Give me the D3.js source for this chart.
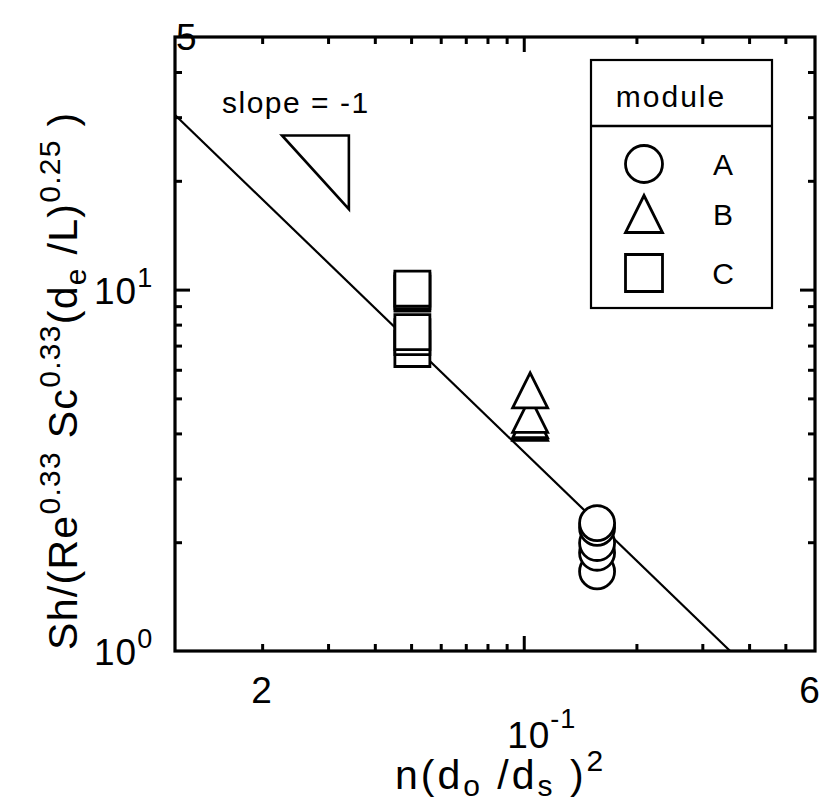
<!DOCTYPE html>
<html>
<head>
<meta charset="utf-8">
<script src="https://cdn.jsdelivr.net/npm/d3@7"></script>
<style>
  html, body { margin: 0; padding: 0; background: #fff; }
  svg { display: block; }
  text { font-family: "Liberation Sans", Arial, Helvetica, sans-serif; fill: #000; }
</style>
</head>
<body>
<svg id="chart" width="820" height="810"></svg>
<script>
// Mass-transfer correlation: Sh/(Re^0.33 Sc^0.33 (de/L)^0.25) against n(do/ds)^2

// Module labels and their packing parameter n(do/ds)^2
const modules = ["A", "B", "C"];
const moduleX = [0.157, 0.104, 0.0504];
// Measured correlation values for each module
const valuesA = [1.66, 1.87, 1.99, 2.19, 2.26];
const valuesB = [4.28, 4.35, 4.50, 5.26];
const valuesC = [6.85, 7.39, 7.63, 9.75, 9.90, 10.06];

// Fitted line y = k / x (slope -1 on log-log axes)
const fitCoefficient = 0.356;

// Axis extents and ticks
const xDomain = [0.0117, 0.6];
const yDomain = [1, 50];
const xMinorTicks = [0.02, 0.03, 0.04, 0.05, 0.06, 0.07, 0.08, 0.09, 0.2, 0.3, 0.4, 0.5];
const xMajorTicks = [0.1];
const yMinorTicks = [2, 3, 4, 5, 6, 7, 8, 9, 20, 30, 40];
const yMajorTicks = [10];
const xTickLabels = [
  { v: 0.02, base: "2", sup: "" },
  { v: 0.1, base: "10", sup: "-1" },
  { v: 0.6, base: "6", sup: "" }
];
const yTickLabels = [
  { v: 1, base: "10", sup: "0" },
  { v: 10, base: "10", sup: "1" },
  { v: 50, base: "5", sup: "" }
];

// Slope indicator triangle corners (data units)
const slopeTriX = [0.0226, 0.0341];
const slopeTriY = [26.7, 16.7];

const svg = d3.select("#chart");
const pL = 175, pR = 815, pT = 37, pB = 651;

const x = d3.scaleLog().domain(xDomain).range([pL, pR]);
const y = d3.scaleLog().domain(yDomain).range([pB, pT]);

// Fitted line, clipped to the plot frame
const fitStart = xDomain[0];
const fitEnd = fitCoefficient / yDomain[0];
svg.append("line")
  .attr("x1", x(fitStart)).attr("y1", y(fitCoefficient / fitStart))
  .attr("x2", x(fitEnd)).attr("y2", y(fitCoefficient / fitEnd))
  .attr("stroke", "#000").attr("stroke-width", 2.2);

// Slope indicator
svg.append("path")
  .attr("d", d3.line()([
    [x(slopeTriX[0]), y(slopeTriY[0])],
    [x(slopeTriX[1]), y(slopeTriY[0])],
    [x(slopeTriX[1]), y(slopeTriY[1])]
  ]) + "Z")
  .attr("fill", "none").attr("stroke", "#000").attr("stroke-width", 2.6)
  .attr("stroke-linejoin", "miter");

svg.append("text")
  .attr("x", 222).attr("y", 113)
  .attr("font-size", 30).attr("letter-spacing", 1.5)
  .text("slope = -1");

// Axes: inward ticks on all four sides
function styleAxis(g) {
  g.select(".domain").remove();
  g.selectAll(".tick line").attr("stroke", "#000").attr("stroke-width", 3);
}
const minorLen = 7, majorLen = 15;
svg.append("g").attr("transform", `translate(0,${pB})`)
  .call(d3.axisBottom(x).tickValues(xMinorTicks).tickSize(-minorLen).tickFormat("")).call(styleAxis);
svg.append("g").attr("transform", `translate(0,${pB})`)
  .call(d3.axisBottom(x).tickValues(xMajorTicks).tickSize(-majorLen).tickFormat("")).call(styleAxis);
svg.append("g").attr("transform", `translate(0,${pT})`)
  .call(d3.axisTop(x).tickValues(xMinorTicks).tickSize(-minorLen).tickFormat("")).call(styleAxis);
svg.append("g").attr("transform", `translate(0,${pT})`)
  .call(d3.axisTop(x).tickValues(xMajorTicks).tickSize(-majorLen).tickFormat("")).call(styleAxis);
svg.append("g").attr("transform", `translate(${pL},0)`)
  .call(d3.axisLeft(y).tickValues(yMinorTicks).tickSize(-minorLen).tickFormat("")).call(styleAxis);
svg.append("g").attr("transform", `translate(${pL},0)`)
  .call(d3.axisLeft(y).tickValues(yMajorTicks).tickSize(-majorLen).tickFormat("")).call(styleAxis);
svg.append("g").attr("transform", `translate(${pR},0)`)
  .call(d3.axisRight(y).tickValues(yMinorTicks).tickSize(-minorLen).tickFormat("")).call(styleAxis);
svg.append("g").attr("transform", `translate(${pR},0)`)
  .call(d3.axisRight(y).tickValues(yMajorTicks).tickSize(-majorLen).tickFormat("")).call(styleAxis);

// Plot frame
svg.append("rect")
  .attr("x", pL).attr("y", pT).attr("width", pR - pL).attr("height", pB - pT)
  .attr("fill", "none").attr("stroke", "#000").attr("stroke-width", 3.2);

// Tick labels
const tickFont = 37, supFont = 27;
xTickLabels.forEach(d => {
  const t = svg.append("text").attr("font-size", tickFont).attr("text-anchor", "middle")
    .attr("letter-spacing", 1);
  if (d.sup) {
    t.attr("x", x(d.v) + 18).attr("y", 748);
    t.append("tspan").text(d.base);
    t.append("tspan").attr("font-size", supFont).attr("dy", -20).text(d.sup);
  } else {
    t.attr("x", d.v === 0.6 ? x(d.v) - 5 : x(d.v)).attr("y", 703).text(d.base);
  }
});
yTickLabels.forEach(d => {
  const t = svg.append("text").attr("font-size", tickFont).attr("letter-spacing", 1);
  if (d.sup) {
    t.attr("x", 94).attr("y", y(d.v) + 14);
    t.append("tspan").text(d.base);
    t.append("tspan").attr("font-size", supFont).attr("dy", -17).text(d.sup);
  } else {
    t.attr("x", 176).attr("y", 50).text(d.base);
  }
});

// Axis titles
const xt = svg.append("text").attr("x", 395).attr("y", 789).attr("font-size", 41)
  .attr("letter-spacing", 3);
xt.append("tspan").text("n(d");
xt.append("tspan").attr("font-size", 30).attr("dy", 7).text("o");
xt.append("tspan").attr("dy", -7).text(" /d");
xt.append("tspan").attr("font-size", 30).attr("dy", 7).text("s");
xt.append("tspan").attr("dy", -7).text(" )");
xt.append("tspan").attr("font-size", 30).attr("dy", -18).text("2");

const yt = svg.append("text")
  .attr("transform", "translate(77,650) rotate(-90)")
  .attr("font-size", 41).attr("letter-spacing", 1.3);
yt.append("tspan").text("Sh/(Re");
yt.append("tspan").attr("font-size", 30).attr("dy", -17).text("0.33");
yt.append("tspan").attr("dy", 17).text(" Sc");
yt.append("tspan").attr("font-size", 30).attr("dy", -17).text("0.33");
yt.append("tspan").attr("dy", 17).text("(d");
yt.append("tspan").attr("font-size", 30).attr("dy", 9).text("e");
yt.append("tspan").attr("dy", -9).text(" /L)");
yt.append("tspan").attr("font-size", 30).attr("dy", -17).text("0.25");
yt.append("tspan").attr("dy", 17).text(" )");

// Marker shapes
const markerSize = 35;
function markerPath(kind, s) {
  const h = s / 2;
  if (kind === "A") return d3.arc()({ innerRadius: 0, outerRadius: h, startAngle: 0, endAngle: 2 * Math.PI });
  if (kind === "B") return `M0,${-h}L${h},${h}L${-h},${h}Z`;
  return `M${-h},${-h}H${h}V${h}H${-h}Z`;
}

// Data markers
const series = [
  { key: "C", xv: moduleX[2], vals: valuesC },
  { key: "B", xv: moduleX[1], vals: valuesB },
  { key: "A", xv: moduleX[0], vals: valuesA }
];
series.forEach(sr => {
  svg.append("g").selectAll("path").data(sr.vals).join("path")
    .attr("transform", v => `translate(${x(sr.xv)},${y(v)})`)
    .attr("d", markerPath(sr.key, markerSize))
    .attr("fill", "#fff").attr("stroke", "#000").attr("stroke-width", 2.8);
});

// Legend
const lg = svg.append("g");
lg.append("rect").attr("x", 591).attr("y", 60).attr("width", 181).attr("height", 248)
  .attr("fill", "#fff").attr("stroke", "#000").attr("stroke-width", 2.2);
lg.append("line").attr("x1", 591).attr("x2", 772).attr("y1", 126).attr("y2", 126)
  .attr("stroke", "#000").attr("stroke-width", 2.4);
lg.append("text").attr("x", 671).attr("y", 107).attr("font-size", 30)
  .attr("letter-spacing", 2).attr("text-anchor", "middle").text("module");
const legendRows = [164, 214, 273];
modules.forEach((m, i) => {
  lg.append("path")
    .attr("transform", `translate(644,${legendRows[i]})`)
    .attr("d", markerPath(m, 37))
    .attr("fill", "#fff").attr("stroke", "#000").attr("stroke-width", 2.8);
  lg.append("text").attr("x", 723).attr("y", legendRows[i] + 11)
    .attr("font-size", 30).attr("text-anchor", "middle").text(m);
});
</script>
</body>
</html>
